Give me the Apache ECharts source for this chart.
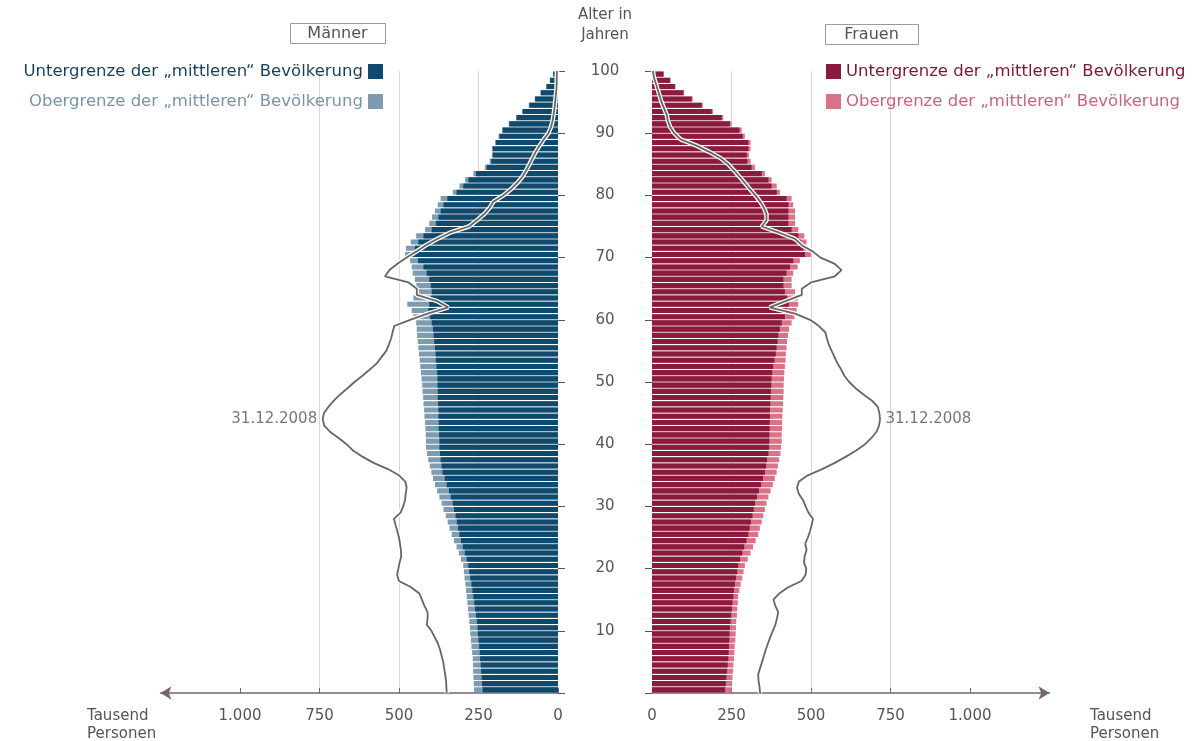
<!DOCTYPE html>
<html><head><meta charset="utf-8">
<script src="https://cdn.jsdelivr.net/npm/echarts@6/dist/echarts.min.js"></script>
<style>html,body{margin:0;padding:0;background:#fff}#c{width:1198px;height:741px}</style>
</head><body><div id="c"></div>
<script>
// ---- data (Tausend Personen), ages 0..99 for bars ----
const ages = Array.from({length:100}, (_, i) => String(i));
const menLower = [
 237,239,240,242,243,245,246,248,250,252,
 253,255,258,261,263,266,269,272,276,279,
 282,287,293,299,305,310,314,318,322,327,
 331,337,343,350,356,363,366,369,371,373,
 373,374,375,375,376,376,377,378,378,379,
 379,380,382,384,385,387,389,391,393,397,
 402,408,405,400,397,400,405,413,423,440,
 460,450,439,423,397,384,376,369,360,348,
 319,298,282,258,224,210,205,205,195,184,
 174,153,130,111,90,72,54,36,25,15];
const menUpper = [
 264,265,266,267,267,268,270,272,274,276,
 277,279,281,283,285,287,289,291,294,296,
 298,305,312,319,327,334,341,347,353,360,
 366,373,380,387,393,398,403,408,412,415,
 415,416,417,418,420,421,423,424,426,427,
 429,431,433,435,437,439,441,443,444,446,
 455,460,474,455,441,446,450,457,460,465,
 481,478,463,446,418,405,396,387,378,369,
 331,310,292,266,230,215,208,208,198,187,
 176,155,132,113,92,73,55,37,26,16];
const womenLower = [
 230,232,234,236,238,240,241,242,243,244,
 245,247,249,251,253,256,258,261,264,268,
 271,277,284,290,297,303,307,311,316,320,
 324,330,336,343,349,355,359,362,366,368,
 369,369,370,370,371,371,372,373,374,375,
 376,378,381,385,389,392,395,397,402,408,
 418,425,430,425,418,413,413,423,434,444,
 481,476,468,460,439,429,429,429,429,423,
 392,376,366,345,313,300,298,303,303,285,
 275,245,219,188,156,125,99,72,57,36];
const womenUpper = [
 250,252,253,255,256,258,259,260,262,263,
 264,265,267,268,270,271,275,279,284,288,
 292,301,310,318,326,334,339,345,350,355,
 360,366,373,380,386,392,396,400,404,406,
 408,408,409,409,410,411,412,413,414,414,
 415,416,418,420,421,423,425,428,431,439,
 448,455,460,458,450,439,439,444,458,465,
 500,491,486,479,460,450,450,450,444,439,
 402,392,376,355,324,310,305,310,310,292,
 282,250,224,192,160,128,101,74,58,37];
// population 31.12.2008, ages 0..100
const men2008 = [
 350,351,352,355,358,361,366,371,378,388,
 398,413,410,410,420,428,436,462,500,506,
 502,498,493,494,497,500,505,511,516,495,
 487,481,479,476,480,500,535,580,615,645,
 665,690,717,735,740,736,722,705,685,662,
 640,615,592,570,555,540,532,525,520,515,
 465,410,345,380,444,444,470,544,530,505,
 476,445,415,380,340,280,255,232,215,203,
 172,148,128,112,100,90,80,70,58,45,
 30,22,17,14,11,9,7,5,4,4,3];
const women2008 = [
 340,338,335,334,340,346,352,358,365,372,
 380,388,393,397,388,382,400,428,470,483,
 485,478,480,486,482,490,497,502,506,492,
 483,475,462,456,462,490,535,575,610,642,
 670,690,706,714,717,715,710,692,665,640,
 620,605,595,583,574,565,556,550,545,525,
 497,450,370,420,471,471,500,575,596,575,
 530,505,471,450,400,345,360,360,352,340,
 325,308,292,275,258,240,215,180,140,90,
 70,57,50,46,38,30,24,18,12,6,3];
const xTickValues = [0, 250, 500, 750, 1000];
const xTickLabels = ['0', '250', '500', '750', '1.000'];
const dateLabel = '31.12.2008';
const NAME_U = 'Untergrenze der „mittleren“ Bevölkerung';
const NAME_O = 'Obergrenze der „mittleren“ Bevölkerung';

// ---- style ----
const FONT = '"DejaVu Sans", Verdana, sans-serif';
const MEN_DARK = '#0f4a6c', MEN_LIGHT = '#7d9cb1';
const WOM_DARK = '#8a1b3c', WOM_LIGHT = '#d97389';
const AXIS_C = '#76666b', TXT = '#555555', GRIDC = '#d6d6d6', LINE_C = '#666666';

function peakPoint(arr) {
  let pi = 0; arr.forEach((v, i) => { if (v > arr[pi]) pi = i; });
  return [[arr[pi], pi]];
}
function xAxisFor(gi, inv) {
  return {
    gridIndex: gi, type: 'value', inverse: inv, min: 0, max: 1250, interval: 250,
    axisLine: {show: true, lineStyle: {color: AXIS_C, width: 1.5},
      symbol: inv ? ['arrow', 'none'] : ['none', 'arrow'], symbolSize: [10, 11]},
    axisTick: {show: true, inside: true, length: 5, lineStyle: {color: AXIS_C}, customValues: xTickValues},
    axisLabel: {customValues: xTickValues, margin: 16, color: TXT, fontSize: 15, fontFamily: FONT,
      formatter: v => { const k = xTickValues.indexOf(v); return k < 0 ? '' : xTickLabels[k]; }},
    splitLine: {show: true, showMinLine: false, showMaxLine: false, lineStyle: {color: GRIDC, width: 1}}
  };
}
function barSeries(name, xi, yi, data, color) {
  return {type: 'bar', name, xAxisIndex: xi, yAxisIndex: yi, data, barWidth: '82%', barGap: '-100%',
    itemStyle: {color}, silent: true};
}
function lineSeries(xi, yi, data, peakPos) {
  const pts = data.map((v, i) => [v, i]);
  return [
    {type: 'line', xAxisIndex: xi, yAxisIndex: yi, data: pts, symbol: 'none',
      lineStyle: {color: '#ffffff', width: 4.5}, silent: true, z: 3},
    {type: 'line', xAxisIndex: xi, yAxisIndex: yi, data: pts, symbol: 'none',
      lineStyle: {color: LINE_C, width: 1.8}, silent: true, z: 4},
    {type: 'scatter', xAxisIndex: xi, yAxisIndex: yi, data: peakPoint(data), symbolSize: 1,
      itemStyle: {color: 'rgba(0,0,0,0)'}, silent: true, z: 5,
      label: {show: true, position: peakPos, distance: 5, formatter: dateLabel,
        color: TXT, fontSize: 15, fontFamily: FONT}}
  ];
}

const chart = echarts.init(document.getElementById('c'), null, {renderer: 'canvas'});
chart.setOption({
  animation: false,
  backgroundColor: '#ffffff',
  textStyle: {fontFamily: FONT},
  grid: [
    {left: 160.5, width: 397.5, top: 71, bottom: 48},
    {left: 652, width: 397.5, top: 71, bottom: 48}
  ],
  xAxis: [xAxisFor(0, true), xAxisFor(1, false)],
  yAxis: [
    {gridIndex: 0, type: 'category', data: ages, show: false},
    {gridIndex: 0, type: 'value', min: 0, max: 100, interval: 10, position: 'right',
      axisLine: {show: false}, axisTick: {show: true, length: 7, lineStyle: {color: TXT}},
      axisLabel: {show: false}, splitLine: {show: false}},
    {gridIndex: 1, type: 'category', data: ages, show: false},
    {gridIndex: 1, type: 'value', min: 0, max: 100, interval: 10, position: 'left',
      axisLine: {show: false}, axisTick: {show: true, length: 7, lineStyle: {color: TXT}},
      axisLabel: {align: 'center', margin: 47, color: TXT, fontSize: 15, fontFamily: FONT,
        formatter: v => v === 0 ? '' : String(v)},
      splitLine: {show: false}}
  ],
  legend: [
    {orient: 'vertical', right: 1198 - 383, top: 63, align: 'right', padding: 0, itemGap: 13,
      itemWidth: 15, itemHeight: 15, icon: 'rect', selectedMode: false,
      textStyle: {fontSize: 16.5, fontFamily: FONT},
      data: [
        {name: NAME_U, itemStyle: {color: MEN_DARK}, textStyle: {color: '#173f5a'}},
        {name: NAME_O, itemStyle: {color: MEN_LIGHT}, textStyle: {color: '#7894a8'}}
      ]},
    {orient: 'vertical', left: 826, top: 63, align: 'left', padding: 0, itemGap: 13,
      itemWidth: 15, itemHeight: 15, icon: 'rect', selectedMode: false,
      textStyle: {fontSize: 16.5, fontFamily: FONT},
      data: [
        {name: NAME_U, itemStyle: {color: WOM_DARK}, textStyle: {color: '#7a1733'}},
        {name: NAME_O, itemStyle: {color: WOM_LIGHT}, textStyle: {color: '#c9647d'}}
      ]}
  ],
  graphic: [
    {type: 'rect', left: 290, top: 23, shape: {width: 95, height: 20}, style: {fill: '#fff', stroke: '#9a9a9a', lineWidth: 1}},
    {type: 'text', x: 337.5, y: 33.5, style: {text: 'Männer', fill: TXT, font: '16px ' + FONT,
      align: 'center', verticalAlign: 'middle', textAlign: 'center', textVerticalAlign: 'middle'}},
    {type: 'rect', left: 825, top: 24, shape: {width: 93, height: 20}, style: {fill: '#fff', stroke: '#9a9a9a', lineWidth: 1}},
    {type: 'text', x: 871.5, y: 34.5, style: {text: 'Frauen', fill: TXT, font: '16px ' + FONT,
      align: 'center', verticalAlign: 'middle', textAlign: 'center', textVerticalAlign: 'middle'}},
    {type: 'text', x: 605, y: 15, style: {text: 'Alter in', fill: TXT, font: '15px ' + FONT,
      align: 'center', verticalAlign: 'middle', textAlign: 'center', textVerticalAlign: 'middle'}},
    {type: 'text', x: 605, y: 35, style: {text: 'Jahren', fill: TXT, font: '15px ' + FONT,
      align: 'center', verticalAlign: 'middle', textAlign: 'center', textVerticalAlign: 'middle'}},
    {type: 'text', left: 87, top: 707, style: {text: 'Tausend\nPersonen', fill: TXT, font: '15px ' + FONT, lineHeight: 18}},
    {type: 'text', left: 1090, top: 707, style: {text: 'Tausend\nPersonen', fill: TXT, font: '15px ' + FONT, lineHeight: 18}}
  ],
  series: [
    barSeries(NAME_O, 0, 0, menUpper, MEN_LIGHT),
    barSeries(NAME_U, 0, 0, menLower, MEN_DARK),
    barSeries(NAME_O, 1, 2, womenUpper, WOM_LIGHT),
    barSeries(NAME_U, 1, 2, womenLower, WOM_DARK),
    ...lineSeries(0, 1, men2008, 'left'),
    ...lineSeries(1, 3, women2008, 'right')
  ]
});
</script></body></html>
